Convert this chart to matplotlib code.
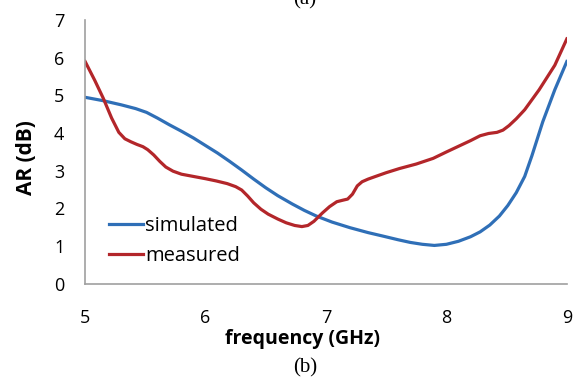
# -------- Packs --------
import matplotlib
matplotlib.use('Agg')
import matplotlib.pyplot as plt

# -------- Data --------
sim_f = [5.0, 5.15, 5.3, 5.42, 5.51, 5.6, 5.7, 5.8, 5.9, 6.0, 6.1, 6.2, 6.3, 6.4,
         6.5, 6.6, 6.72, 6.82, 6.92, 7.05, 7.2, 7.35, 7.47, 7.6, 7.7, 7.8, 7.9,
         8.0, 8.1, 8.2, 8.28, 8.36, 8.44, 8.51, 8.58, 8.65, 8.71, 8.8, 8.9, 9.0]
sim_ar = [4.95, 4.86, 4.75, 4.65, 4.55, 4.4, 4.22, 4.05, 3.87, 3.67, 3.47, 3.25, 3.02, 2.78,
          2.55, 2.34, 2.12, 1.95, 1.8, 1.64, 1.49, 1.36, 1.27, 1.17, 1.1, 1.05, 1.02,
          1.05, 1.13, 1.25, 1.38, 1.56, 1.8, 2.08, 2.42, 2.85, 3.4, 4.3, 5.15, 5.9]

meas_f = [5.0, 5.08, 5.15, 5.22, 5.28, 5.33, 5.38, 5.43, 5.48, 5.52, 5.57, 5.62, 5.67,
          5.73, 5.8, 5.9, 6.0, 6.09, 6.18, 6.25, 6.3, 6.35, 6.4, 6.46, 6.52, 6.6,
          6.67, 6.74, 6.8, 6.85, 6.9, 6.97, 7.03, 7.09, 7.14, 7.18, 7.22, 7.26, 7.3,
          7.35, 7.42, 7.5, 7.61, 7.75, 7.89, 8.0, 8.1, 8.2, 8.28, 8.35, 8.42, 8.47,
          8.52, 8.58, 8.65, 8.77, 8.9, 9.0]
meas_ar = [5.9, 5.4, 4.93, 4.4, 4.02, 3.85, 3.77, 3.7, 3.64, 3.56, 3.42, 3.25, 3.1,
           2.99, 2.91, 2.85, 2.79, 2.73, 2.66, 2.58, 2.49, 2.33, 2.15, 1.98, 1.85, 1.72,
           1.62, 1.55, 1.52, 1.55, 1.66, 1.88, 2.05, 2.18, 2.22, 2.25, 2.38, 2.6, 2.71,
           2.78, 2.86, 2.95, 3.06, 3.18, 3.33, 3.5, 3.65, 3.8, 3.93, 3.99, 4.02, 4.08,
           4.2, 4.38, 4.62, 5.15, 5.8, 6.5]

x_ticks = [5, 6, 7, 8, 9]
y_ticks = [0, 1, 2, 3, 4, 5, 6, 7]

# -------- Figure --------
plt.rcParams['font.family'] = ['Open Sans', 'DejaVu Sans']

fig = plt.figure(figsize=(5.79, 3.78), dpi=100)
ax = fig.add_axes([0.147, 0.249, 0.832, 0.698])

ax.plot(sim_f, sim_ar, color='#2f6fb7', lw=2.3, label='simulated')
ax.plot(meas_f, meas_ar, color='#b3262a', lw=2.3, label='measured')

ax.set_xlim(5, 9)
ax.set_ylim(0, 7)
ax.set_xticks(x_ticks)
ax.set_yticks(y_ticks)
ax.tick_params(length=0, labelsize=13, colors='#000000')
ax.tick_params(axis='y', pad=15)
ax.tick_params(axis='x', pad=18)

for s in ['top', 'right']:
    ax.spines[s].set_visible(False)
for s in ['left', 'bottom']:
    ax.spines[s].set_color('#a0a0a0')
    ax.spines[s].set_linewidth(1.2)

ax.set_xlabel('frequency (GHz)', fontsize=14, fontweight='bold')
ax.xaxis.set_label_coords(0.452, -0.172)
ax.set_ylabel('AR (dB)', fontsize=15, fontweight='bold')
ax.yaxis.set_label_coords(-0.1, 0.48)

ax.legend(loc='lower left', bbox_to_anchor=(0.012, 0.0), frameon=False,
          fontsize=14.5, handlelength=1.7, handletextpad=0.1, labelspacing=0.5)

# sub-figure captions
fig.text(0.527, 0.015, '(b)', family='Liberation Serif', fontsize=15, ha='center')
fig.text(0.527, 0.975, '(a)', family='Liberation Serif', fontsize=15, ha='center', va='bottom')

fig.savefig('out.png', dpi=100)
